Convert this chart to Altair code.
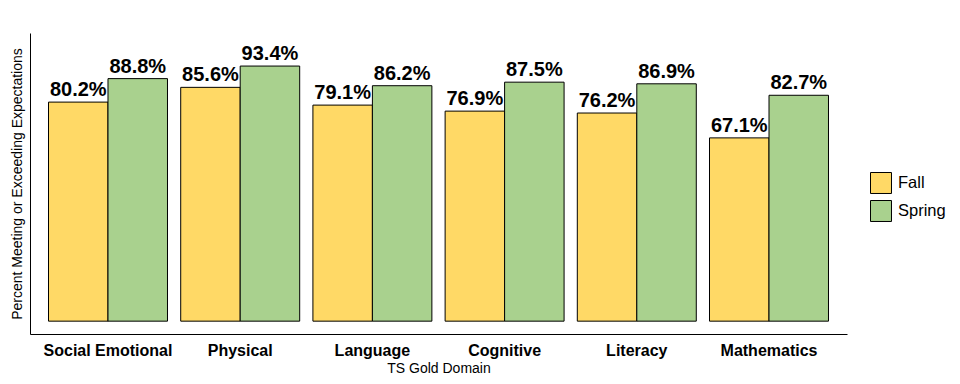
import altair as alt
import pandas as pd

domains = ["Social Emotional", "Physical", "Language", "Cognitive", "Literacy", "Mathematics"]
fall = [80.2, 85.6, 79.1, 76.9, 76.2, 67.1]
spring = [88.8, 93.4, 86.2, 87.5, 86.9, 82.7]
seasons = ["Fall", "Spring"]
colors = ["#FFD966", "#A9D18E"]

rows = []
for d, f, s in zip(domains, fall, spring):
    rows.append({"domain": d, "season": "Fall", "value": f})
    rows.append({"domain": d, "season": "Spring", "value": s})
df = pd.DataFrame(rows)

FONT = "Liberation Sans"

base = alt.Chart(df).encode(
    x=alt.X("domain:N", sort=domains,
            scale=alt.Scale(paddingInner=0.1, paddingOuter=0.14),
            axis=alt.Axis(title="TS Gold Domain", labelAngle=0, labelFontWeight="bold",
                          labelFontSize=16, labelColor="black", labelPadding=8,
                          ticks=False, domainColor="black", titleFontSize=14,
                          titleFontWeight="normal", titleColor="black", titlePadding=3)),
    xOffset=alt.XOffset("season:N", sort=seasons, scale=alt.Scale(paddingInner=0, paddingOuter=0)),
    y=alt.Y("value:Q", scale=alt.Scale(domain=[-4.7, 105.5], nice=False, zero=False),
            axis=alt.Axis(title="Percent Meeting or Exceeding Expectations", labels=False,
                          ticks=False, grid=False, domainColor="black", titleFontSize=14,
                          titleFontWeight="normal", titleColor="black", titlePadding=6)),
)

bars = base.mark_bar(stroke="black", strokeWidth=1).encode(
    y2=alt.datum(0),
    color=alt.Color("season:N", sort=seasons,
                    scale=alt.Scale(domain=seasons, range=colors),
                    legend=alt.Legend(title=None, orient="none", legendX=840, legendY=139,
                                      symbolType="square", symbolSize=440,
                                      symbolStrokeColor="black", symbolStrokeWidth=1,
                                      symbolOpacity=1, labelFontSize=16.5, labelColor="black",
                                      labelOffset=6, rowPadding=2)),
)

labels = base.transform_calculate(
    lab="format(datum.value, '.1f') + '%'"
).mark_text(baseline="bottom", dy=-2, fontSize=20, fontWeight="bold", color="black").encode(
    text="lab:N"
)

chart = alt.layer(bars, labels).properties(
    width=817, height=301,
    autosize=alt.AutoSizeParams(type="none"),
    padding={"left": 22, "top": 25, "right": 100, "bottom": 42},
).configure(font=FONT).configure_view(stroke=None)

chart.save("out.html", embed_options={"renderer": "svg", "actions": False})
